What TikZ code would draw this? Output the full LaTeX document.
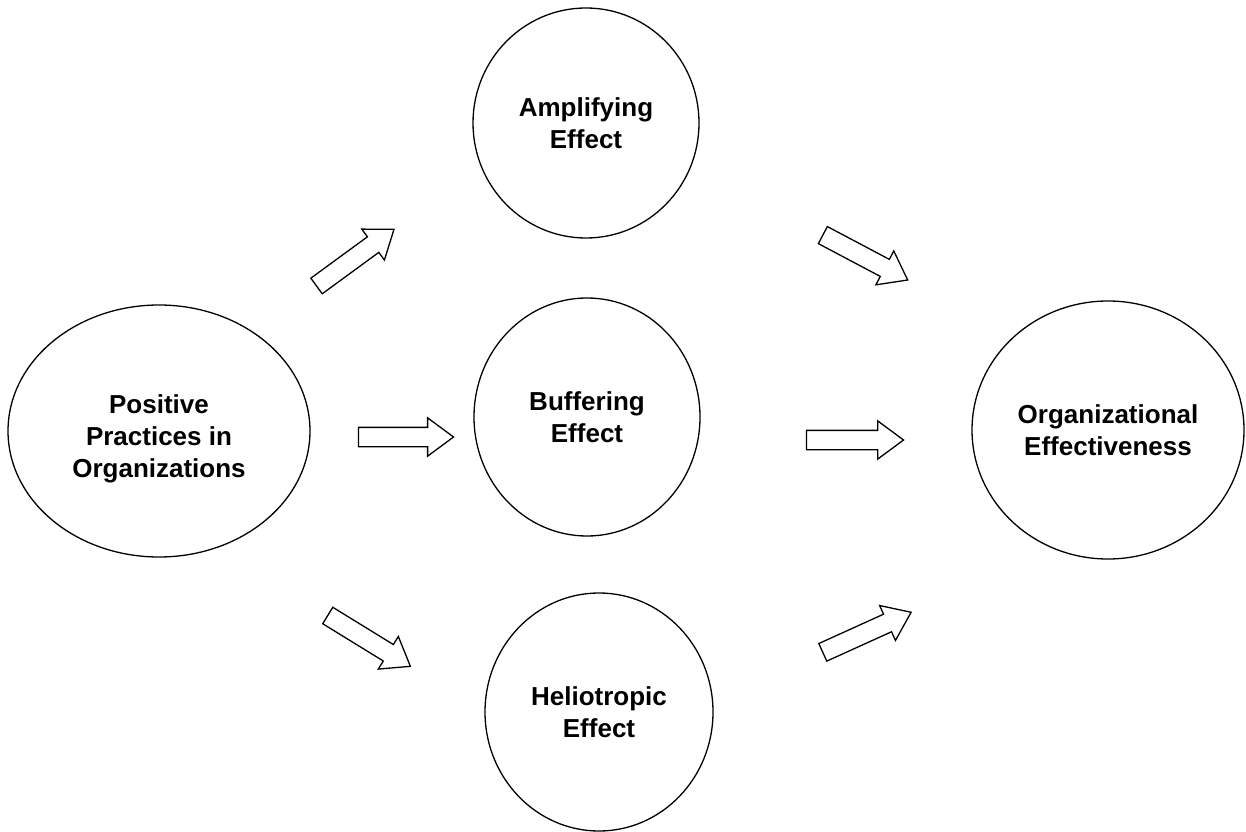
\documentclass[tikz,border=0pt]{standalone}
\usepackage{fontspec}
\setmainfont{Liberation Sans}
\usetikzlibrary{shapes.geometric,shapes.arrows}
\tikzset{
  bubble/.style={ellipse, draw=black, line width=1.3pt, fill=white, inner sep=0pt,
    align=center, font=\fontsize{26}{32}\selectfont\bfseries},
  bubbletext/.style={inner sep=0pt, align=center, font=\fontsize{26}{32}\selectfont\bfseries},
  blockarrow/.style={single arrow, draw=black, line width=1.3pt, fill=white,
    inner sep=9pt, minimum width=0pt, single arrow head extend=9.5pt,
    single arrow tip angle=73, anchor=center}
}
\begin{document}
\begin{tikzpicture}[x=1pt,y=1pt]
\useasboundingbox[fill=white] (0,0) rectangle (1246,831);
\node[bubble, minimum width=302pt, minimum height=252pt] (ppo) at (159,400) {};
\node[bubbletext] (ppotext) at (159,392) {Positive\\Practices in\\Organizations};
\node[bubble, minimum width=226pt, minimum height=230pt] (amp) at (586,708) {Amplifying\\Effect};
\node[bubble, minimum width=226pt, minimum height=238pt] (buf) at (587,414) {Buffering\\Effect};
\node[bubble, minimum width=228pt, minimum height=238pt] (hel) at (599,119) {Heliotropic\\Effect};
\node[bubble, minimum width=272pt, minimum height=258pt] (org) at (1108,401) {Organizational\\Effectiveness};
\node[blockarrow, minimum height=96pt, rotate=36.2] (a1) at (350,569.5) {};
\node[blockarrow, minimum height=95pt] (a2) at (399.5,394) {};
\node[blockarrow, minimum height=97pt, rotate=-31.6] (a3) at (363.5,193.5) {};
\node[blockarrow, minimum height=96pt, rotate=-27.9] (a4) at (859.5,576.5) {};
\node[blockarrow, minimum height=97pt] (a5) at (848.5,391) {};
\node[blockarrow, minimum height=97pt, rotate=24.4] (a6) at (861,196) {};
\end{tikzpicture}
\end{document}
